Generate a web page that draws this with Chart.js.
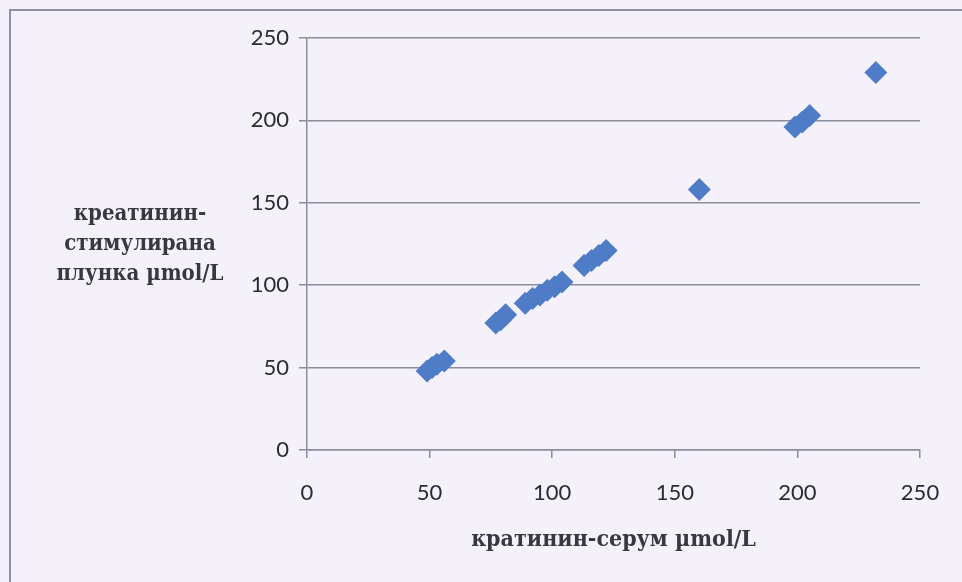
<!DOCTYPE html>
<html>
<head>
<meta charset="utf-8">
<script src="https://cdn.jsdelivr.net/npm/chart.js@4.4.1/dist/chart.umd.min.js"></script>
<style>
  html, body { margin: 0; padding: 0; background: #f5f1fa; }
  #box { position: relative; width: 962px; height: 582px; }
  #frame { position: absolute; left: 9px; top: 9px; right: -4px; bottom: -4px;
           border-left: 2px solid #8c8fa6; border-top: 2px solid #8c8fa6; }
  canvas { position: absolute; left: 0; top: 0; }
</style>
</head>
<body>
<div id="box">
  <div id="frame"></div>
  <canvas id="chart" width="962" height="582"></canvas>
</div>
<script>
"use strict";

// serum creatinine (x) vs stimulated saliva creatinine (y)
const serum = [49, 51, 53, 56, 77, 79, 81, 89, 92, 95, 98, 101, 104, 113, 116, 119, 122, 160, 199, 202, 205, 232];
const saliva = [48, 50, 52, 54, 77, 79, 82, 89, 92, 94, 97, 99, 102, 112, 115, 118, 121, 158, 196, 199, 203, 229];

const xTicks = [0, 50, 100, 150, 200, 250];
const yTicks = [0, 50, 100, 150, 200, 250];

const yTitle = ["креатинин-", "стимулирана", "плунка µmol/L"];
const xTitle = "кратинин-серум µmol/L";

const titleFont = "'DejaVu Serif Condensed'";

let points = [];
for (let i = 0; i < serum.length; i++) {
  points.push({ x: serum[i], y: saliva[i] });
}

const yTitlePlugin = {
  id: "yTitlePlugin",
  afterDraw(chart) {
    const ctx = chart.ctx;
    const area = chart.chartArea;
    ctx.save();
    ctx.font = "bold 22px " + titleFont;
    ctx.fillStyle = "#383842";
    ctx.textAlign = "center";
    ctx.textBaseline = "middle";
    const midY = (area.top + area.bottom) / 2;
    for (let i = 0; i < yTitle.length; i++) {
      ctx.fillText(yTitle[i], 140, midY + (i - 1) * 30);
    }
    ctx.restore();
  }
};

const data = {
  datasets: [
    {
      label: "плунка",
      data: points,
      pointStyle: "rectRot",
      pointRadius: 11.5,
      pointHoverRadius: 11.5,
      backgroundColor: "#4f7cc6",
      borderColor: "#4f7cc6",
      borderWidth: 0,
      showLine: false
    }
  ]
};

const config = {
  type: "scatter",
  data: data,
  options: {
    responsive: false,
    animation: false,
    layout: { padding: { left: 200, right: 42, top: 38, bottom: 0 } },
    plugins: {
      legend: { display: false },
      tooltip: { enabled: false }
    },
    scales: {
      x: {
        min: 0,
        max: 250,
        afterBuildTicks: (scale) => { scale.ticks = xTicks.map(v => ({ value: v })); },
        afterFit: (scale) => { scale.height = 132; },
        grid: { drawOnChartArea: false, drawTicks: true, tickLength: 8, color: "#8a8d9c", lineWidth: 1.5 },
        border: { display: true, color: "#8a8d9c", width: 1.5 },
        ticks: { color: "#2b2b30", font: { family: "Lato", size: 22 }, padding: 22, maxRotation: 0 },
        title: {
          display: true,
          text: xTitle,
          color: "#383842",
          font: { family: "DejaVu Serif Condensed", size: 23, weight: "bold" },
          padding: { top: 0, bottom: 28 }
        }
      },
      y: {
        min: 0,
        max: 250,
        afterBuildTicks: (scale) => { scale.ticks = yTicks.map(v => ({ value: v })); },
        afterFit: (scale) => { scale.width = 107; },
        grid: { color: "#8a8d9c", lineWidth: 1.5, tickLength: 8 },
        border: { display: true, color: "#8a8d9c", width: 1.5 },
        ticks: { color: "#2b2b30", font: { family: "Lato", size: 22 }, padding: 10 }
      }
    }
  },
  plugins: [yTitlePlugin]
};

const newChart = new Chart(document.getElementById("chart"), config);
</script>
</body>
</html>
